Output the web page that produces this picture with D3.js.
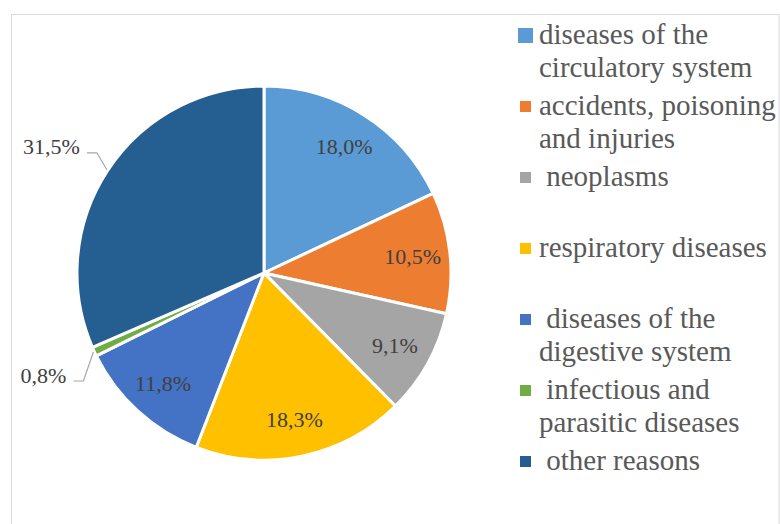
<!DOCTYPE html>
<html>
<head>
<meta charset="utf-8">
<script src="https://cdn.jsdelivr.net/npm/d3@7"></script>
<style>
  html, body { margin: 0; padding: 0; background: #fff; }
  svg { display: block; }
</style>
</head>
<body>
<svg id="chart" width="780" height="524"></svg>
<script>
// ---- data ----
const categories = [
  "diseases of the circulatory system",
  "accidents, poisoning and injuries",
  "neoplasms",
  "respiratory diseases",
  "diseases of the digestive system",
  "infectious and parasitic diseases",
  "other reasons"
];
const values = [18.0, 10.5, 9.1, 18.3, 11.8, 0.8, 31.5];
const valueLabels = ["18,0%", "10,5%", "9,1%", "18,3%", "11,8%", "0,8%", "31,5%"];
const legendLines = [
  ["diseases of the", "circulatory system"],
  ["accidents, poisoning", "and injuries"],
  [" neoplasms"],
  ["respiratory diseases"],
  [" diseases of the", "digestive system"],
  [" infectious and", "parasitic diseases"],
  [" other reasons"]
];
const colors = ["#5B9BD5", "#ED7D31", "#A5A5A5", "#FFC000", "#4472C4", "#70AD47", "#255E91"];
const outsideLabels = [false, false, false, false, false, true, true];

// ---- layout ----
const FONT = "'Liberation Serif', 'Times New Roman', 'DejaVu Serif', serif";
const svg = d3.select("#chart");
const cx = 264, cy = 273, R = 187;

// chart frame
svg.append("rect")
  .attr("x", 11.5).attr("y", 14.5)
  .attr("width", 767.5).attr("height", 540)
  .attr("fill", "#fff")
  .attr("stroke", "#d9d9d9").attr("stroke-width", 1);

const color = d3.scaleOrdinal().domain(categories).range(colors);
const pie = d3.pie().sort(null).value(d => d.value).startAngle(0).endAngle(2 * Math.PI);
const data = categories.map((c, i) => ({ cat: c, value: values[i], label: valueLabels[i], outside: outsideLabels[i] }));
const arcs = pie(data);
const arc = d3.arc().innerRadius(0).outerRadius(R);

const g = svg.append("g").attr("transform", `translate(${cx},${cy})`);

g.selectAll("path.slice")
  .data(arcs)
  .join("path")
  .attr("class", "slice")
  .attr("d", arc)
  .attr("fill", d => color(d.data.cat))
  .attr("stroke", "#fff")
  .attr("stroke-width", 3)
  .attr("stroke-linejoin", "round");

// inside labels
const labelArc = d3.arc().innerRadius(R * 0.8).outerRadius(R * 0.8);
g.selectAll("text.in")
  .data(arcs.filter(d => !d.data.outside))
  .join("text")
  .attr("class", "in")
  .attr("x", d => labelArc.centroid(d)[0])
  .attr("y", d => labelArc.centroid(d)[1])
  .attr("dy", "0.35em")
  .attr("text-anchor", "middle")
  .attr("font-family", FONT)
  .attr("font-size", 22)
  .attr("fill", "#404040")
  .text(d => d.data.label);

// outside labels with leader lines
const outs = arcs.filter(d => d.data.outside);
outs.forEach(d => {
  const a = (d.startAngle + d.endAngle) / 2;
  const px = Math.sin(a) * (R + 1);
  const py = -Math.cos(a) * (R + 1);
  const up = Math.cos(a) > 0 ? -1 : 1;
  const textEnd = px - 27;
  const ly = py + up * 23;
  g.append("polyline")
    .attr("points", [[textEnd + 7, ly + 6], [textEnd + 17, ly + 6], [px, py]].map(p => p.join(",")).join(" "))
    .attr("fill", "none")
    .attr("stroke", "#a6a6a6")
    .attr("stroke-width", 1.2);
  g.append("text")
    .attr("x", textEnd)
    .attr("y", ly)
    .attr("dy", "0.35em")
    .attr("text-anchor", "end")
    .attr("font-family", FONT)
    .attr("font-size", 22)
    .attr("fill", "#404040")
    .text(d.data.label);
});

// legend
const legendX = 539, legendY0 = 43.5, itemStep = 71, lineStep = 33;
const leg = svg.append("g");
categories.forEach((c, i) => {
  const base = legendY0 + i * itemStep;
  const s = i === 0 ? 15 : 11;
  leg.append("rect")
    .attr("x", 525.5 - s / 2)
    .attr("y", base - 8 - s / 2)
    .attr("width", s).attr("height", s)
    .attr("fill", color(c));
  legendLines[i].forEach((line, j) => {
    leg.append("text")
      .attr("x", legendX)
      .attr("y", base + j * lineStep)
      .attr("font-family", FONT)
      .attr("font-size", 29)
      .attr("fill", "#595959")
      .style("white-space", "pre")
      .text(line);
  });
});
</script>
</body>
</html>
